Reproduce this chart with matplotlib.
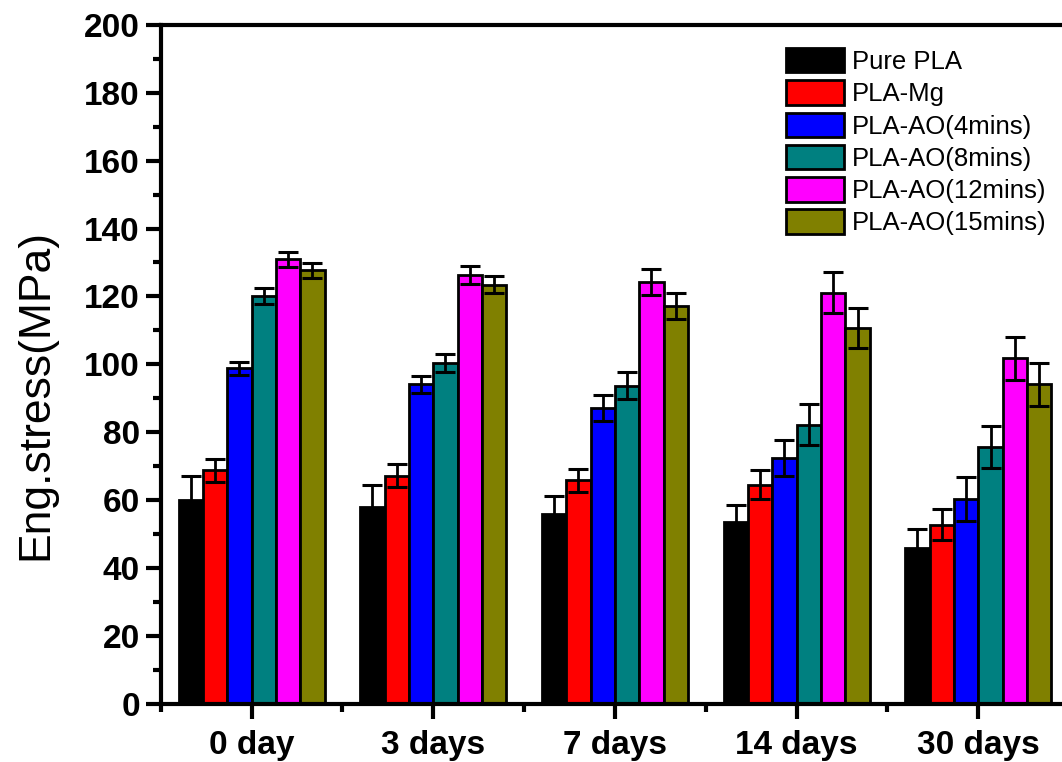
import numpy as np
import matplotlib
matplotlib.use("Agg")
import matplotlib.pyplot as plt
from matplotlib.patches import Patch

plt.rcParams['font.family'] = ['Liberation Sans', 'DejaVu Sans']

# Immersion time groups
groups = ["0 day", "3 days", "7 days", "14 days", "30 days"]

# Sample series (mean tensile strength and error, MPa)
series_names = ["Pure PLA", "PLA-Mg", "PLA-AO(4mins)", "PLA-AO(8mins)",
                "PLA-AO(12mins)", "PLA-AO(15mins)"]
series_colors = ["#000000", "#FF0000", "#0000FF", "#008080", "#FF00FF", "#808000"]

pure_pla = [59.9, 58.0, 55.9, 53.4, 45.7]
pla_mg = [68.7, 67.2, 65.8, 64.5, 52.7]
pla_ao4 = [98.8, 94.1, 87.1, 72.3, 60.3]
pla_ao8 = [120.1, 100.3, 93.7, 82.2, 75.6]
pla_ao12 = [131.0, 126.4, 124.3, 121.1, 101.8]
pla_ao15 = [127.7, 123.4, 117.2, 110.7, 94.1]

err_pure_pla = [7.3, 6.3, 5.3, 5.2, 5.6]
err_pla_mg = [3.4, 3.4, 3.4, 4.3, 4.5]
err_pla_ao4 = [2.0, 2.5, 3.9, 5.3, 6.4]
err_pla_ao8 = [2.4, 2.6, 3.9, 6.1, 6.2]
err_pla_ao12 = [2.2, 2.6, 3.8, 6.0, 6.3]
err_pla_ao15 = [2.2, 2.5, 3.9, 6.0, 6.3]

values = [pure_pla, pla_mg, pla_ao4, pla_ao8, pla_ao12, pla_ao15]
errors = [err_pure_pla, err_pla_mg, err_pla_ao4, err_pla_ao8, err_pla_ao12, err_pla_ao15]

W, H = 1062, 762
fig = plt.figure(figsize=(W / 100, H / 100), dpi=100)
fig.patch.set_facecolor("white")

left_px, right_px = 160.7, 1069.2
top_px, bottom_px = 25.0, 703.5
ax = fig.add_axes([left_px / W, 1 - bottom_px / H,
                   (right_px - left_px) / W, (bottom_px - top_px) / H])
ax.set_facecolor("white")

x = np.arange(len(groups))
bw = 0.134
for j, (vals, errs, col, name) in enumerate(zip(values, errors, series_colors, series_names)):
    xs = x + (j - 2.5) * bw
    ax.bar(xs, vals, width=bw, color=col, edgecolor="black", linewidth=2.0,
           zorder=2, label=name)
    ax.errorbar(xs, vals, yerr=errs, fmt="none", ecolor="black",
                elinewidth=2.0, capsize=7.5, capthick=2.2, zorder=3)

ax.set_xlim(-0.5, 4.5)
ax.set_ylim(0, 200)

ax.set_yticks(np.arange(0, 201, 20))
ax.set_yticks(np.arange(10, 200, 20), minor=True)
ax.set_xticks(x)
ax.set_xticklabels(groups)
ax.set_xticks(np.arange(-0.5, 4.6, 1.0), minor=True)

for s in ax.spines.values():
    s.set_linewidth(3.0)

ax.tick_params(axis="both", which="major", direction="out", length=11, width=3.0)
ax.tick_params(axis="both", which="minor", direction="out", length=6, width=3.0)
ax.tick_params(axis="y", which="major", labelsize=24, pad=4)
ax.tick_params(axis="x", which="major", labelsize=24, pad=8)
for lab in ax.get_xticklabels() + ax.get_yticklabels():
    lab.set_fontweight("bold")

fig.text(36 / W, 1 - 395 / H, "Eng.stress(MPa)", rotation=90,
         ha="center", va="center", fontsize=32)

handles = [Patch(facecolor=c, edgecolor="black", linewidth=2.0) for c in series_colors]
leg = ax.legend(handles, series_names, loc="upper left",
                bbox_to_anchor=(786 / W, 1 - 48 / H), bbox_transform=fig.transFigure,
                frameon=False, fontsize=18.5, handlelength=2.25, handleheight=1.09,
                labelspacing=0.245, handletextpad=0.3, borderpad=0, borderaxespad=0)

fig.savefig("out.png", dpi=100)
